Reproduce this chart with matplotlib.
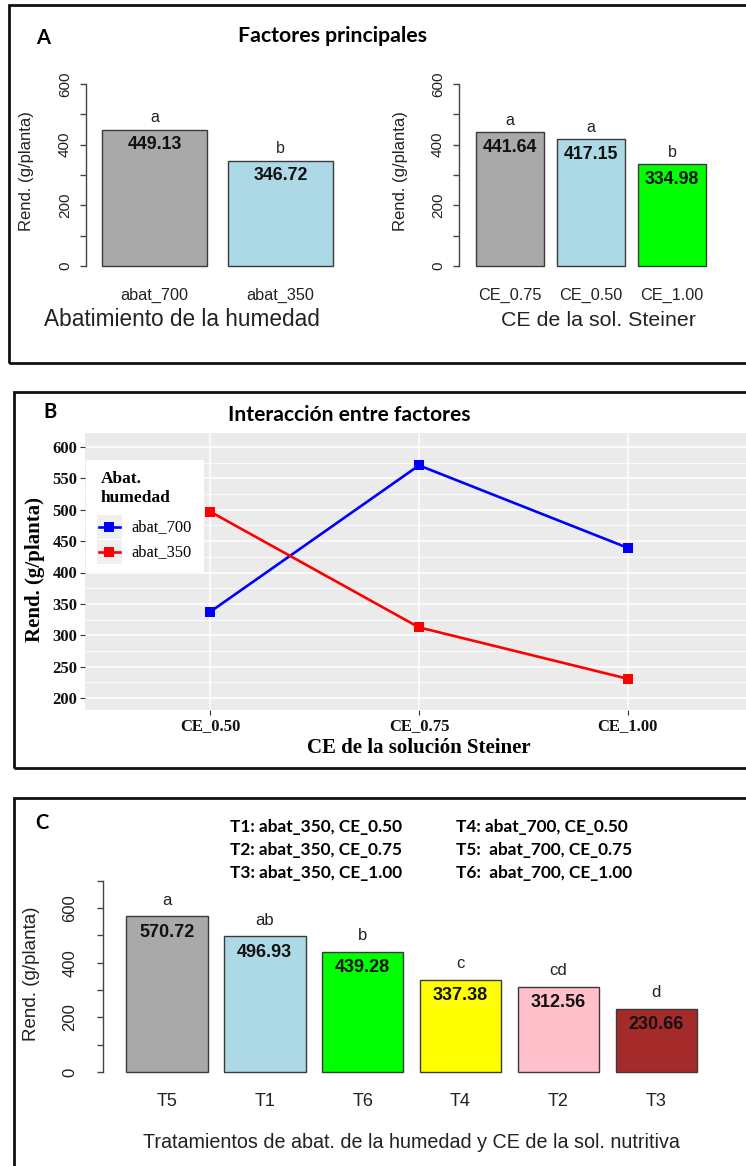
import matplotlib
matplotlib.use("Agg")
import matplotlib.pyplot as plt
from matplotlib.patches import Rectangle
from matplotlib.lines import Line2D
import matplotlib.transforms as mtransforms

# ---------------- data ----------------
a1_cats = ["abat_700", "abat_350"]
a1_vals = [449.13, 346.72]
a1_letters = ["a", "b"]
a1_colors = ["#A9A9A9", "#ADD8E6"]

a2_cats = ["CE_0.75", "CE_0.50", "CE_1.00"]
a2_vals = [441.64, 417.15, 334.98]
a2_letters = ["a", "a", "b"]
a2_colors = ["#A9A9A9", "#ADD8E6", "#00FF00"]

b_cats = ["CE_0.50", "CE_0.75", "CE_1.00"]
b_abat700 = [337.38, 570.72, 439.28]
b_abat350 = [496.93, 312.56, 230.66]
b_series = ["abat_700", "abat_350"]
b_colors = ["#0000FF", "#FF0000"]
b_yticks = [200, 250, 300, 350, 400, 450, 500, 550, 600]

c_cats = ["T5", "T1", "T6", "T4", "T2", "T3"]
c_vals = [570.72, 496.93, 439.28, 337.38, 312.56, 230.66]
c_letters = ["a", "ab", "b", "c", "cd", "d"]
c_colors = ["#A9A9A9", "#ADD8E6", "#00FF00", "#FFFF00", "#FFC0CB", "#A52A2A"]
c_legend_left = ["T1: abat_350, CE_0.50", "T2: abat_350, CE_0.75", "T3: abat_350, CE_1.00"]
c_legend_right = ["T4: abat_700, CE_0.50", "T5:  abat_700, CE_0.75", "T6:  abat_700, CE_1.00"]

# ---------------- figure ----------------
W, H = 746, 1166
DPI = 100
fig = plt.figure(figsize=(W / DPI, H / DPI), dpi=DPI)
fig.patch.set_facecolor("white")

SANS = "Liberation Sans"
SERIF = "Liberation Serif"
CAL = "Lato"


def fx(x):
    return x / W


def fy(y):
    return 1 - y / H


def ax_px(l, t, r, b):
    return fig.add_axes([l / W, 1 - b / H, (r - l) / W, (b - t) / H])


def ftext(x, y, s, **kw):
    fig.text(fx(x), fy(y), s, **kw)


# panel boxes
for (l, t, r, b) in [(9, 5, 760, 363), (14, 392, 760, 768), (14, 798, 760, 1180)]:
    fig.patches.append(Rectangle((fx(l), fy(b)), (r - l) / W, (b - t) / H,
                                 transform=fig.transFigure, fill=False,
                                 edgecolor="#111111", linewidth=2.0, clip_on=False))


def bar_panel(cats, vals, letters, colors, l, r, t, b, bar0_px, unit_px,
              y0_px, ytop_px, ytop_val, ymax_axis, tick_x, name_y,
              letter_off, value_off, fs_tick, fs_name, fs_val, fs_letter):
    ax = ax_px(l, t, r, b)
    k = (y0_px - ytop_px) / ytop_val
    ax.set_xlim(0.2 - (bar0_px - l) / unit_px, 0.2 + (r - bar0_px) / unit_px)
    ax.set_ylim(-(b - y0_px) / k, ytop_val + (ytop_px - t) / k)
    xs = [0.7 + 1.2 * i for i in range(len(cats))]
    ax.bar(xs, vals, width=1.0, color=colors, edgecolor="#3a3a3a", linewidth=1.0)
    ax.patch.set_alpha(0)
    for s in ["top", "right", "bottom"]:
        ax.spines[s].set_visible(False)
    ax.spines["left"].set_bounds(0, ymax_axis)
    ax.spines["left"].set_color("#444444")
    ax.spines["left"].set_linewidth(1.0)
    ticks = list(range(0, ymax_axis + 1, 100))
    ax.set_yticks(ticks)
    ax.set_yticklabels([])
    ax.tick_params(axis="y", length=6 * 0.72, width=1.0, color="#444444")
    ax.set_xticks([])
    tr_y = mtransforms.blended_transform_factory(fig.transFigure, ax.transData)
    for tv in ticks:
        if tv % 200 == 0:
            ax.text(fx(tick_x), tv, str(tv), transform=tr_y, rotation=90,
                    ha="center", va="center", fontsize=fs_tick, family=SANS,
                    color="#222222", clip_on=False)
    tr_x = mtransforms.blended_transform_factory(ax.transData, fig.transFigure)
    for xv, c in zip(xs, cats):
        ax.text(xv, fy(name_y), c, transform=tr_x, ha="center", va="center",
                fontsize=fs_name, family=SANS, color="#222222")
    for xv, v, lt in zip(xs, vals, letters):
        ax.annotate(lt, xy=(xv, v), xytext=(0, letter_off * 0.72),
                    textcoords="offset points", ha="center", va="center",
                    fontsize=fs_letter, family=SANS, color="#222222",
                    annotation_clip=False)
        ax.annotate(f"{v:.2f}", xy=(xv, v), xytext=(0, -value_off * 0.72),
                    textcoords="offset points", ha="center", va="center",
                    fontsize=fs_val, family=SANS, fontweight="bold",
                    color="#111111", annotation_clip=False)
    return ax


# ---------------- Panel A ----------------
ftext(43, 38, "A", fontsize=14.5, family=CAL, fontweight="bold", ha="center", va="center")
ftext(333, 36, "Factores principales", fontsize=15.3, family=CAL, fontweight="bold",
      ha="center", va="center")

bar_panel(a1_cats, a1_vals, a1_letters, a1_colors, 86, 348, 70, 272,
          102, 105, 266, 84, 600, 600, 65, 295, 12, 15, 11, 11.7, 12.8, 11.5)
ftext(27, 171, "Rend. (g/planta)", rotation=90, fontsize=12, family=SANS,
      ha="center", va="center", color="#222222")
ftext(182, 320, "Abatimiento de la humedad", fontsize=16.3, family=SANS,
      ha="center", va="center", color="#222222")

bar_panel(a2_cats, a2_vals, a2_letters, a2_colors, 459, 720, 70, 272,
          476, 67.6, 266, 84, 600, 600, 438, 295, 12, 15, 11, 11.7, 12.8, 11.5)
ftext(400, 171, "Rend. (g/planta)", rotation=90, fontsize=12, family=SANS,
      ha="center", va="center", color="#222222")
ftext(598, 320, "CE de la sol. Steiner", fontsize=15.4, family=SANS,
      ha="center", va="center", color="#222222")

# ---------------- Panel B ----------------
ftext(50, 412, "B", fontsize=14.5, family=CAL, fontweight="bold", ha="center", va="center")
ftext(349, 415, "Interacción entre factores", fontsize=15.1, family=CAL, fontweight="bold",
      ha="center", va="center")

axb = ax_px(85, 433, 753, 710)
kb = (698 - 447) / 400.0
axb.set_xlim(-0.6, 2.6)
axb.set_ylim(200 - (710 - 698) / kb, 600 + (447 - 433) / kb)
axb.set_facecolor("#EBEBEB")
for s in axb.spines.values():
    s.set_visible(False)
axb.set_yticks(b_yticks)
axb.set_yticks([v + 25 for v in b_yticks[:-1]], minor=True)
xb = list(range(len(b_cats)))
axb.set_xticks(xb)
axb.set_xticklabels(b_cats)
axb.grid(which="major", color="white", linewidth=1.1)
axb.grid(which="minor", axis="y", color="white", linewidth=0.55)
axb.set_axisbelow(True)
axb.tick_params(axis="both", which="major", length=3.5, width=0.8, color="#333333",
                labelsize=12, pad=2)
axb.tick_params(axis="y", which="minor", length=0)
for lab in axb.get_xticklabels() + axb.get_yticklabels():
    lab.set_family(SERIF)
    lab.set_fontweight("bold")
    lab.set_color("#111111")
for vals, col in zip([b_abat700, b_abat350], b_colors):
    axb.plot(xb, vals, color=col, linewidth=1.9, marker="s", markersize=6.5,
             markeredgewidth=0)
ftext(35, 570, "Rend. (g/planta)", rotation=90, fontsize=15, family=SERIF,
      fontweight="bold", ha="center", va="center")
ftext(419, 748, "CE de la solución Steiner", fontsize=15, family=SERIF,
      fontweight="bold", ha="center", va="center")

# legend (drawn manually, ggplot style)
fig.patches.append(Rectangle((fx(86), fy(572)), (204 - 86) / W, (572 - 460) / H,
                             transform=fig.transFigure, facecolor="white",
                             edgecolor="none", zorder=5))
ftext(101, 479, "Abat.", fontsize=12.5, family=SERIF, fontweight="bold",
      ha="left", va="center", zorder=6)
ftext(101, 498, "humedad", fontsize=12.5, family=SERIF, fontweight="bold",
      ha="left", va="center", zorder=6)
for i, (name, col) in enumerate(zip(b_series, b_colors)):
    yc = 527 + 25 * i
    fig.patches.append(Rectangle((fx(97), fy(yc + 12)), 25 / W, 24 / H,
                                 transform=fig.transFigure, facecolor="#F0F0F0",
                                 edgecolor="none", zorder=6))
    fig.lines.append(Line2D([fx(99), fx(120)], [fy(yc), fy(yc)], transform=fig.transFigure,
                            color=col, linewidth=1.9, zorder=7))
    fig.lines.append(Line2D([fx(109.5)], [fy(yc)], transform=fig.transFigure,
                            color=col, marker="s", markersize=6.5, markeredgewidth=0,
                            zorder=7))
    ftext(131, yc, name, fontsize=11.8, family=SERIF, ha="left", va="center", zorder=7)

# ---------------- Panel C ----------------
ftext(42, 823, "C", fontsize=14.5, family=CAL, fontweight="bold", ha="center", va="center")
for i, (sl, sr) in enumerate(zip(c_legend_left, c_legend_right)):
    ftext(230, 827 + 23 * i, sl, fontsize=12.4, family=CAL, fontweight="bold",
          ha="left", va="center")
    ftext(456, 827 + 23 * i, sr, fontsize=12.4, family=CAL, fontweight="bold",
          ha="left", va="center")

bar_panel(c_cats, c_vals, c_letters, c_colors, 103, 710, 870, 1078,
          126, 81.6, 1072, 908, 600, 700, 70, 1102, 16, 16, 12, 13, 13, 12)
ftext(32, 974, "Rend. (g/planta)", rotation=90, fontsize=13.5, family=SANS,
      ha="center", va="center", color="#222222")
ftext(411, 1142, "Tratamientos de abat. de la humedad y CE de la sol. nutritiva",
      fontsize=14.2, family=SANS, ha="center", va="center", color="#222222")

fig.savefig("out.png", dpi=DPI, facecolor="white")
